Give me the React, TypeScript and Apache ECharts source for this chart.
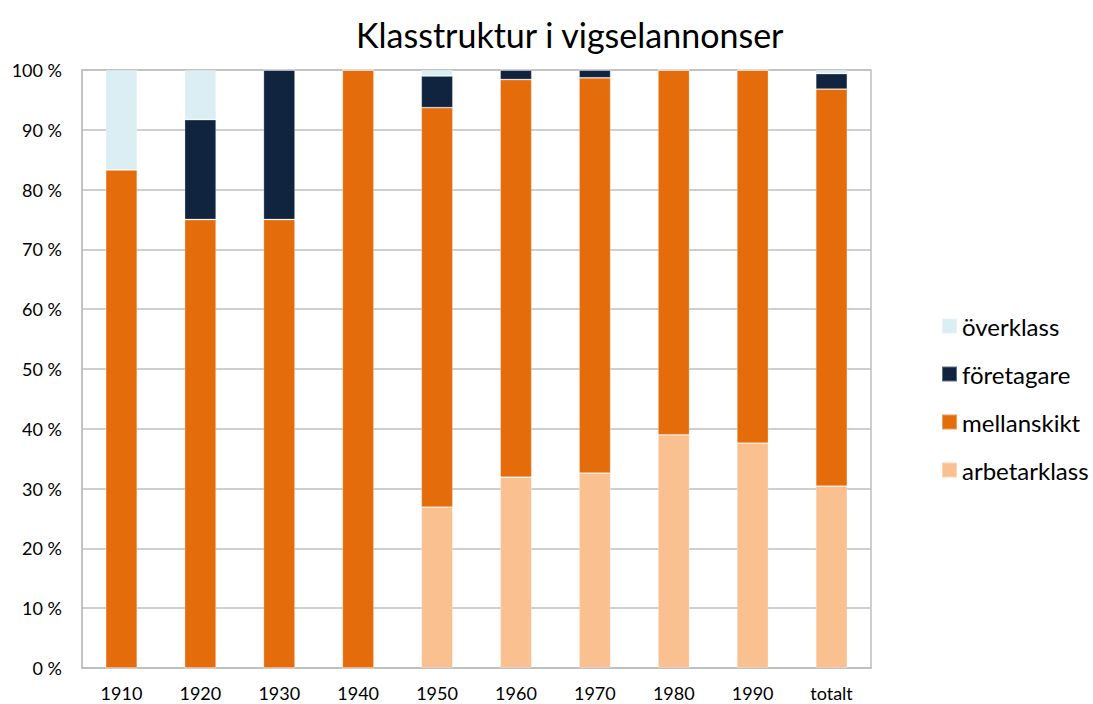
import React, { useEffect, useRef } from "react";
import * as echarts from "echarts";

const categories = ["1910", "1920", "1930", "1940", "1950", "1960", "1970", "1980", "1990", "totalt"];
const arbetarklass = [0, 0, 0, 0, 26.9, 31.9, 32.6, 39.0, 37.6, 30.4];
const mellanskikt = [83.3, 75.0, 75.0, 100, 66.8, 66.5, 66.1, 61.0, 62.4, 66.4];
const foretagare = [0, 16.7, 25.0, 0, 5.3, 1.6, 1.3, 0, 0, 2.6];
const overklass = [16.7, 8.3, 0, 0, 1.0, 0, 0, 0, 0, 0.6];
const yTicks = [0, 10, 20, 30, 40, 50, 60, 70, 80, 90, 100];

const FONT = "Lato, 'Open Sans', sans-serif";

export default function App() {
  const ref = useRef<HTMLDivElement>(null);
  useEffect(() => {
    if (!ref.current) return;
    const chart = echarts.init(ref.current, undefined, { renderer: "svg" });
    const mk = (name: string, data: number[], color: string) => ({
      name,
      type: "bar",
      stack: "total",
      data,
      barWidth: "40%",
      itemStyle: { color, borderColor: "rgba(255,255,255,0.35)", borderWidth: 0.8 },
    });
    chart.setOption({
      animation: false,
      backgroundColor: "#ffffff",
      textStyle: { fontFamily: FONT },
      title: {
        text: "Klasstruktur i vigselannonser",
        left: 351,
        top: 12,
        textStyle: { fontSize: 34, fontWeight: "normal", color: "#000", fontFamily: FONT },
      },
      legend: {
        orient: "vertical",
        left: 936,
        top: 309,
        itemWidth: 15,
        itemHeight: 15,
        itemGap: 24,
        icon: "rect",
        data: ["överklass", "företagare", "mellanskikt", "arbetarklass"],
        textStyle: { fontSize: 24, color: "#000", fontFamily: FONT },
      },
      grid: {
        left: 82,
        right: 222,
        top: 70,
        bottom: 36,
        show: true,
        borderColor: "#BFBFBF",
        borderWidth: 1.5,
      },
      xAxis: {
        type: "category",
        data: categories,
        axisLine: { lineStyle: { color: "#BFBFBF", width: 1.5 } },
        axisTick: { show: false },
        axisLabel: { color: "#000", fontSize: 18, margin: 16, fontFamily: FONT },
      },
      yAxis: {
        type: "value",
        min: 0,
        max: 100,
        interval: 10,
        axisLine: { show: true, lineStyle: { color: "#BFBFBF", width: 1.5 } },
        axisTick: { show: false },
        splitLine: { lineStyle: { color: "#BFBFBF", width: 1.5 } },
        axisLabel: {
          color: "#000",
          fontSize: 18,
          margin: 20,
          fontFamily: FONT,
          formatter: (v: number) => (yTicks.includes(v) ? `${v} %` : ""),
        },
      },
      series: [
        mk("arbetarklass", arbetarklass, "#FAC090"),
        mk("mellanskikt", mellanskikt, "#E46C0A"),
        mk("företagare", foretagare, "#10243F"),
        mk("överklass", overklass, "#DAEEF3"),
      ],
    });
    return () => chart.dispose();
  }, []);
  return (
    <div
      ref={ref}
      style={{ position: "fixed", left: 0, top: 0, width: 1093, height: 704, background: "#fff" }}
    />
  );
}
